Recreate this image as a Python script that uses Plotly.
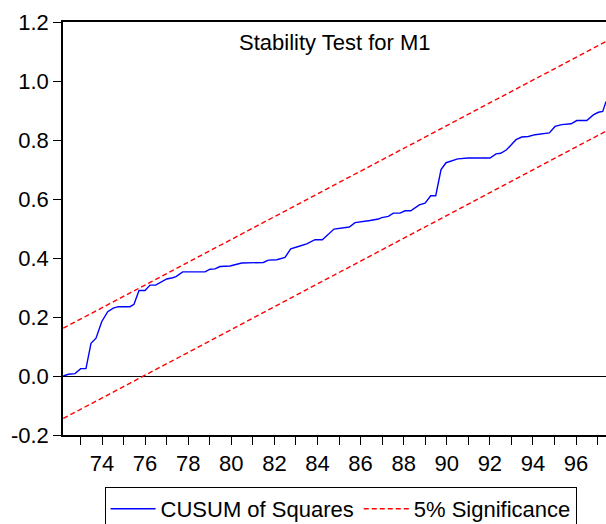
import plotly.graph_objects as go

# ---- data ----
years = [72.204, 72.436, 72.747, 73.011, 73.257, 73.489, 73.722, 73.986, 74.265, 74.524,
         74.757, 75.300, 75.485, 75.717, 75.996, 76.228, 76.492, 76.692, 77.003, 77.281,
         77.435, 77.746, 78.781, 79.013, 79.245, 79.477, 79.941, 80.484, 81.487, 81.719,
         82.109, 82.494, 82.758, 83.111, 83.501, 83.886, 84.225, 84.768, 85.478, 85.743,
         86.054, 86.439, 86.824, 86.982, 87.288, 87.521, 87.832, 88.064, 88.328, 88.727,
         88.992, 89.256, 89.488, 89.734, 89.966, 90.231, 90.509, 91.001, 92.008, 92.287,
         92.505, 92.774, 93.215, 93.480, 93.786, 94.097, 94.761, 95.026, 95.337, 95.768,
         96.033, 96.497, 96.803, 97.036, 97.240, 97.393]
cusum_sq = [0.000, 0.006, 0.008, 0.025, 0.025, 0.111, 0.128, 0.184, 0.218, 0.230,
            0.235, 0.235, 0.243, 0.290, 0.290, 0.308, 0.308, 0.317, 0.329, 0.333,
            0.337, 0.353, 0.353, 0.362, 0.363, 0.371, 0.373, 0.383, 0.385, 0.393,
            0.394, 0.402, 0.431, 0.439, 0.448, 0.462, 0.462, 0.498, 0.505, 0.520,
            0.522, 0.527, 0.532, 0.537, 0.541, 0.552, 0.552, 0.560, 0.560, 0.580,
            0.586, 0.611, 0.611, 0.700, 0.723, 0.730, 0.736, 0.739, 0.739, 0.753,
            0.755, 0.767, 0.801, 0.810, 0.812, 0.818, 0.824, 0.846, 0.852, 0.855,
            0.866, 0.866, 0.885, 0.894, 0.897, 0.931]

band_years = [72.204, 97.393]
upper_band = [0.162, 1.134]
lower_band = [-0.144, 0.830]

tick_years = list(range(73, 98))
tick_labels = [str(y) if y % 2 == 0 else "" for y in tick_years]
y_ticks = [-0.2, 0.0, 0.2, 0.4, 0.6, 0.8, 1.0, 1.2]
y_labels = ["-0.2", "0.0", "0.2", "0.4", "0.6", "0.8", "1.0", "1.2"]

FONT = "Liberation Sans, Arial, sans-serif"

fig = go.Figure()
fig.add_trace(go.Scatter(x=years, y=cusum_sq, mode="lines", name="CUSUM of Squares",
                         line=dict(color="#0000ff", width=1.4)))
fig.add_trace(go.Scatter(x=band_years, y=upper_band, mode="lines", name="5% Significance",
                         line=dict(color="#ff0000", width=1.4, dash="5px,3px")))
fig.add_trace(go.Scatter(x=band_years, y=lower_band, mode="lines", showlegend=False,
                         line=dict(color="#ff0000", width=1.4, dash="5px,3px")))

fig.update_layout(
    width=606, height=524,
    margin=dict(l=63, r=0, t=22, b=89),
    paper_bgcolor="white", plot_bgcolor="white",
    font=dict(family=FONT, size=22, color="black"),
    showlegend=True,
    legend=dict(orientation="h", xref="container", yref="container",
                x=0.562, xanchor="center", y=1 - 487 / 524, yanchor="top",
                bordercolor="black", borderwidth=1, font=dict(size=22),
                itemwidth=45, tracegroupgap=0),
    annotations=[dict(text="Stability Test for M1", x=0.5, y=0.95, xref="paper", yref="paper",
                      showarrow=False, font=dict(size=22, family=FONT), xanchor="center",
                      yanchor="middle")],
)
fig.update_xaxes(range=[72.19, 97.39], tickmode="array", tickvals=tick_years, ticktext=tick_labels,
                 ticks="outside", ticklen=8, tickcolor="black", tickwidth=1,
                 showline=True, linecolor="black", linewidth=1.5, mirror=True,
                 showgrid=False, zeroline=False, tickfont=dict(size=22))
fig.update_yaxes(range=[-0.2, 1.2], tickmode="array", tickvals=y_ticks, ticktext=y_labels,
                 ticks="outside", ticklen=8, tickcolor="black", tickwidth=1,
                 showline=True, linecolor="black", linewidth=1.5,
                 showgrid=False, zeroline=True, zerolinecolor="black", zerolinewidth=1.2,
                 tickfont=dict(size=22))

fig.write_html("out.html", config={"displayModeBar": False},
               post_script="document.body.style.margin='0px';")
